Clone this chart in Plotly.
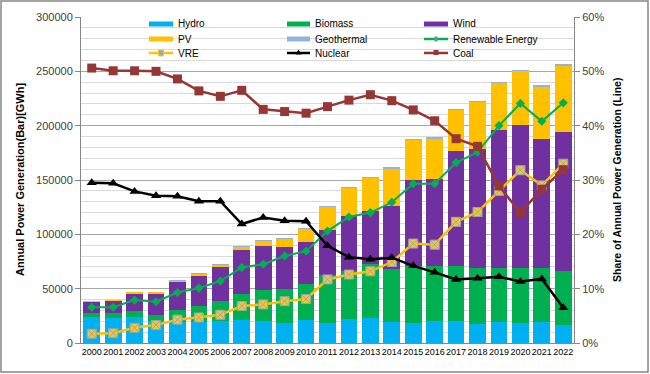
import plotly.graph_objects as go

years = [str(y) for y in range(2000, 2023)]

hydro = [24000, 23000, 23900, 20000, 19500, 19500, 20200, 21000, 20000, 18600, 20900, 18100,
         21800, 23000, 19300, 18700, 20300, 20300, 17800, 19300, 18700, 19300, 16900]
biomass = [4000, 5000, 5800, 6200, 10500, 14900, 18500, 24300, 28400, 30800, 33700, 44800,
           44500, 50100, 48500, 52200, 50600, 50600, 51000, 50100, 50700, 50100, 49700]
wind = [10000, 10800, 16200, 19700, 26500, 26900, 31200, 40500, 40900, 38600, 38400, 41500,
        50400, 48200, 58700, 78900, 79800, 105600, 109300, 126200, 131400, 118200, 128000]
pv = [300, 400, 500, 700, 1100, 2300, 2200, 2800, 4800, 8000, 12300, 20900,
      26400, 31000, 34400, 37500, 37800, 38400, 43900, 44200, 49700, 48800, 61100]
geothermal = [0, 0, 0, 0, 100, 100, 200, 300, 300, 300, 300, 300,
              300, 300, 300, 300, 300, 300, 300, 300, 300, 300, 300]

renewable_share = [6.6, 6.6, 7.9, 7.6, 9.3, 10.1, 11.4, 13.9, 14.5, 16.0, 16.9, 20.6,
                   23.2, 24.0, 25.9, 29.3, 29.3, 33.2, 35.1, 40.0, 44.1, 40.8, 44.2]
vre_share = [1.7, 1.8, 2.8, 3.3, 4.3, 4.7, 5.2, 6.8, 7.1, 7.7, 8.1, 11.7,
             12.6, 13.2, 14.9, 18.3, 18.1, 22.3, 24.1, 28.0, 31.8, 29.0, 33.0]
nuclear_share = [29.5, 29.4, 27.9, 27.1, 27.0, 26.1, 26.1, 21.9, 23.1, 22.5, 22.4, 17.9,
                 15.8, 15.4, 15.7, 14.2, 13.0, 11.7, 11.9, 12.2, 11.3, 11.8, 6.5]
coal_share = [50.6, 50.1, 50.1, 50.0, 48.6, 46.4, 45.4, 46.5, 43.0, 42.6, 42.3, 43.5,
              44.7, 45.7, 44.6, 42.9, 40.9, 37.6, 36.2, 28.9, 24.0, 28.3, 31.9]

HYDRO_C, BIO_C, WIND_C, PV_C, GEO_C = "#00B0F0", "#00B050", "#7030A0", "#FFC000", "#95B3D7"
RE_C, VRE_C, NUC_C, COAL_C = "#00B050", "#FFC000", "#000000", "#953735"

bar_series = [("Hydro", hydro, HYDRO_C), ("Biomass", biomass, BIO_C),
              ("Wind", wind, WIND_C), ("PV", pv, PV_C), ("Geothermal", geothermal, GEO_C)]

FONT = "Liberation Sans, Arial, sans-serif"
W, H = 650, 374
ML, MR, MT, MB = 81, 76, 17, 31
PW, PH = W - ML - MR, H - MT - MB


def px(x):
    return (x - ML) / PW


def py(y):
    return (H - MB - y) / PH


fig = go.Figure()

for name, vals, col in bar_series:
    fig.add_trace(go.Bar(x=years, y=vals, name=name, marker=dict(color=col, line=dict(width=0))))

fig.add_trace(go.Scatter(x=years, y=renewable_share, name="Renewable Energy", yaxis="y2",
                         mode="lines+markers", line=dict(color=RE_C, width=2),
                         marker=dict(symbol="diamond", size=7, color=RE_C)))
fig.add_trace(go.Scatter(x=years, y=vre_share, name="VRE", yaxis="y2",
                         mode="lines+markers", line=dict(color=VRE_C, width=2.5),
                         marker=dict(symbol="square-x", size=9, color="#F2C53D",
                                     line=dict(color="#9AA8A0", width=1))))
fig.add_trace(go.Scatter(x=years, y=nuclear_share, name="Nuclear", yaxis="y2",
                         mode="lines+markers", line=dict(color=NUC_C, width=2.5),
                         marker=dict(symbol="triangle-up", size=9, color=NUC_C)))
fig.add_trace(go.Scatter(x=years, y=coal_share, name="Coal", yaxis="y2",
                         mode="lines+markers", line=dict(color=COAL_C, width=2.5),
                         marker=dict(symbol="square", size=9, color=COAL_C)))

# ---- legend (drawn as in the original: 3 columns x 3 rows, line swatches) ----
legend_items = [
    ("Hydro", HYDRO_C, 5, None), ("Biomass", BIO_C, 5, None), ("Wind", WIND_C, 5, None),
    ("PV", PV_C, 5, None), ("Geothermal", GEO_C, 5, None), ("Renewable Energy", RE_C, 2.5, "plus"),
    ("VRE", VRE_C, 2.5, "vre"), ("Nuclear", NUC_C, 2.5, "tri"), ("Coal", COAL_C, 2.5, "sq"),
]
col_sym_x = [(149, 173), (287, 310), (424, 448)]
col_txt_x = [176, 313, 451]
row_y = [24, 39, 53]

shapes = [
    # legend background
    dict(type="rect", xref="paper", yref="paper", x0=px(133), x1=px(544), y0=py(58), y1=py(18),
         fillcolor="white", line=dict(width=0), layer="between"),
]
annotations = []
for i, (name, col, lw, mk) in enumerate(legend_items):
    r, c = divmod(i, 3)
    x0, x1 = col_sym_x[c]
    yy = row_y[r]
    shapes.append(dict(type="line", xref="paper", yref="paper", x0=px(x0), x1=px(x1),
                       y0=py(yy), y1=py(yy), line=dict(color=col, width=lw), layer="above"))
    xm = (x0 + x1) / 2
    if mk == "sq":
        shapes.append(dict(type="rect", xref="paper", yref="paper", x0=px(xm - 2.5), x1=px(xm + 2.5),
                           y0=py(yy + 2), y1=py(yy - 3), fillcolor=col, line=dict(width=0),
                           layer="above"))
    elif mk == "tri":
        shapes.append(dict(type="path", xref="paper", yref="paper",
                           path=f"M {px(xm - 3)} {py(yy + 1.5)} L {px(xm + 3)} {py(yy + 1.5)} L {px(xm)} {py(yy - 3.5)} Z",
                           fillcolor=col, line=dict(width=0), layer="above"))
    elif mk == "plus":
        shapes.append(dict(type="rect", xref="paper", yref="paper", x0=px(xm - 1.5), x1=px(xm + 1.5),
                           y0=py(yy + 2.5), y1=py(yy - 2.5), fillcolor="#5B9BA0", line=dict(width=0),
                           layer="above"))
    elif mk == "vre":
        shapes.append(dict(type="rect", xref="paper", yref="paper", x0=px(xm - 2.5), x1=px(xm + 2.5),
                           y0=py(yy + 3), y1=py(yy - 3), fillcolor="#8FB0A8",
                           line=dict(color="#F2C53D", width=1), layer="above"))
    annotations.append(dict(text=name, xref="paper", yref="paper", x=px(col_txt_x[c]), y=py(yy),
                            xanchor="left", yanchor="middle", showarrow=False,
                            font=dict(size=10, color="#000000")))

# outer chart border
shapes.append(dict(type="rect", xref="paper", yref="paper", x0=px(1), x1=px(648),
                   y0=py(372), y1=py(1), line=dict(color="#868686", width=1.5),
                   fillcolor="rgba(0,0,0,0)", layer="above"))

annotations += [
    dict(text="<b>Annual Power Generation(Bar)[GWh]</b>", xref="paper", yref="paper",
         x=px(20), y=0.5, textangle=-90, showarrow=False, xanchor="center",
         yanchor="middle", font=dict(size=11, color="#000000")),
    dict(text="<b>Share of Annual Power Generation (Line)</b>", xref="paper", yref="paper",
         x=px(617), y=0.5, textangle=-90, showarrow=False, xanchor="center",
         yanchor="middle", font=dict(size=10.5, color="#000000")),
]

fig.update_layout(
    width=W, height=H,
    margin=dict(l=ML, r=MR, t=MT, b=MB),
    paper_bgcolor="white", plot_bgcolor="white",
    barmode="stack", bargap=0.22,
    showlegend=False,
    font=dict(family=FONT, size=10, color="#000000"),
    xaxis=dict(type="category", tickangle=0, showline=True, linecolor="#868686",
               ticks="", tickfont=dict(size=9, color="#000000"), range=[-0.5, 22.5],
               showgrid=False),
    yaxis=dict(range=[0, 300000], dtick=50000, tickformat="d", showgrid=True,
               gridcolor="#A6A6A6", gridwidth=1, zeroline=False,
               minor=dict(dtick=10000, showgrid=True, gridcolor="#D9D9D9", ticks=""),
               showline=True, linecolor="#868686", ticks="outside", ticklen=5,
               tickcolor="#868686", tickfont=dict(size=11, color="#404040")),
    yaxis2=dict(range=[0, 60], dtick=10, ticksuffix="%", overlaying="y", side="right",
                showgrid=False, zeroline=False, showline=True, linecolor="#868686",
                ticks="outside", ticklen=5, tickcolor="#868686",
                tickfont=dict(size=11, color="#404040")),
    shapes=shapes,
    annotations=annotations,
)

fig.write_html("out.html", config={"displayModeBar": False},
               post_script="document.body.style.margin='0';")
